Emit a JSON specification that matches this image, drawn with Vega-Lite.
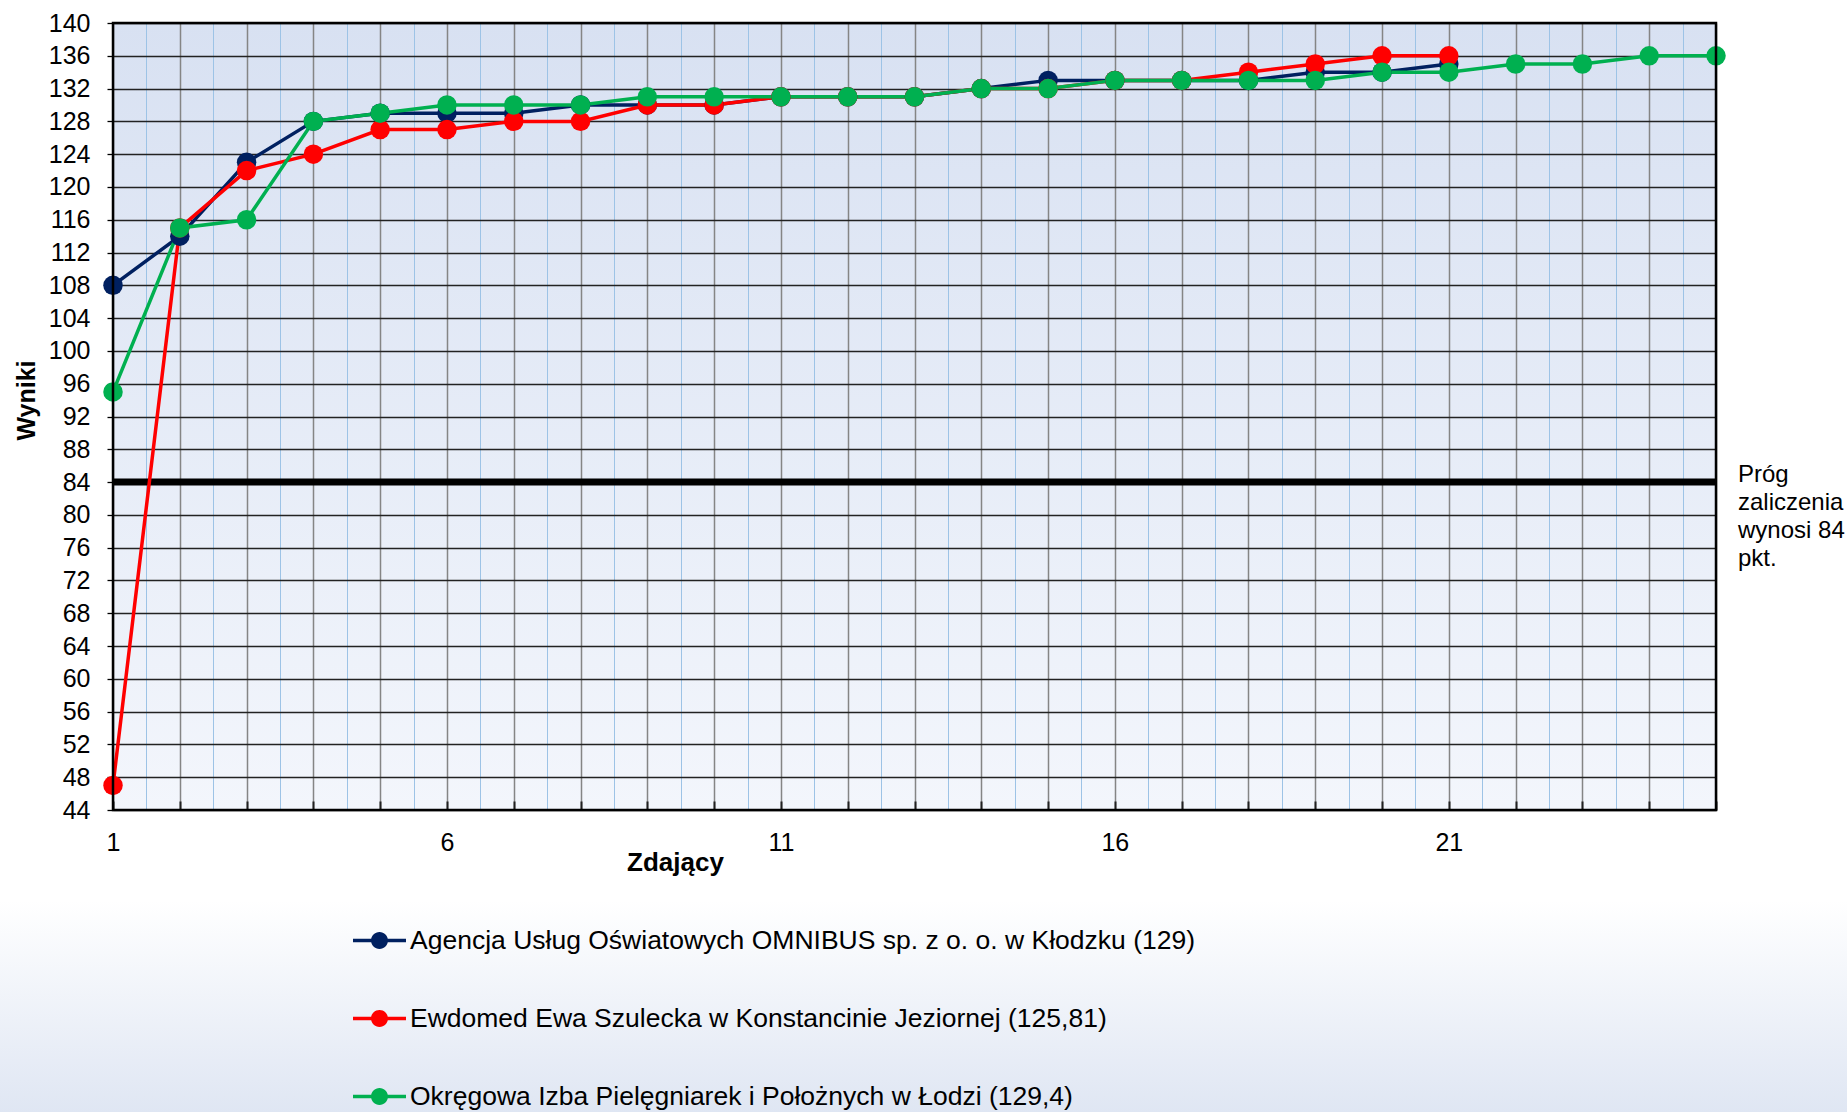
{
  "$schema": "https://vega.github.io/schema/vega-lite/v6.json",
  "width": 1603,
  "height": 787,
  "autosize": {"type": "none"},
  "padding": {"left": 113, "top": 23, "right": 131, "bottom": 302},
  "background": "white",
  "config": {
    "font": "Liberation Sans",
    "view": {
      "stroke": null,
      "fill": {"gradient": "linear", "x1": 0, "y1": 0, "x2": 0, "y2": 1,
        "stops": [{"offset": 0, "color": "#d8e1f2"}, {"offset": 1, "color": "#f3f6fc"}]}
    },
    "axis": {"labelColor": "black", "titleColor": "black", "labelFont": "Liberation Sans", "titleFont": "Liberation Sans"}
  },
  "data": {
    "values": [
      {"zdajacy": 1, "wynik": 108, "podmiot": "Agencja Usług Oświatowych OMNIBUS sp. z o. o. w Kłodzku (129)"},
      {"zdajacy": 2, "wynik": 114, "podmiot": "Agencja Usług Oświatowych OMNIBUS sp. z o. o. w Kłodzku (129)"},
      {"zdajacy": 3, "wynik": 123, "podmiot": "Agencja Usług Oświatowych OMNIBUS sp. z o. o. w Kłodzku (129)"},
      {"zdajacy": 4, "wynik": 128, "podmiot": "Agencja Usług Oświatowych OMNIBUS sp. z o. o. w Kłodzku (129)"},
      {"zdajacy": 5, "wynik": 129, "podmiot": "Agencja Usług Oświatowych OMNIBUS sp. z o. o. w Kłodzku (129)"},
      {"zdajacy": 6, "wynik": 129, "podmiot": "Agencja Usług Oświatowych OMNIBUS sp. z o. o. w Kłodzku (129)"},
      {"zdajacy": 7, "wynik": 129, "podmiot": "Agencja Usług Oświatowych OMNIBUS sp. z o. o. w Kłodzku (129)"},
      {"zdajacy": 8, "wynik": 130, "podmiot": "Agencja Usług Oświatowych OMNIBUS sp. z o. o. w Kłodzku (129)"},
      {"zdajacy": 9, "wynik": 130, "podmiot": "Agencja Usług Oświatowych OMNIBUS sp. z o. o. w Kłodzku (129)"},
      {"zdajacy": 10, "wynik": 130, "podmiot": "Agencja Usług Oświatowych OMNIBUS sp. z o. o. w Kłodzku (129)"},
      {"zdajacy": 11, "wynik": 131, "podmiot": "Agencja Usług Oświatowych OMNIBUS sp. z o. o. w Kłodzku (129)"},
      {"zdajacy": 12, "wynik": 131, "podmiot": "Agencja Usług Oświatowych OMNIBUS sp. z o. o. w Kłodzku (129)"},
      {"zdajacy": 13, "wynik": 131, "podmiot": "Agencja Usług Oświatowych OMNIBUS sp. z o. o. w Kłodzku (129)"},
      {"zdajacy": 14, "wynik": 132, "podmiot": "Agencja Usług Oświatowych OMNIBUS sp. z o. o. w Kłodzku (129)"},
      {"zdajacy": 15, "wynik": 133, "podmiot": "Agencja Usług Oświatowych OMNIBUS sp. z o. o. w Kłodzku (129)"},
      {"zdajacy": 16, "wynik": 133, "podmiot": "Agencja Usług Oświatowych OMNIBUS sp. z o. o. w Kłodzku (129)"},
      {"zdajacy": 17, "wynik": 133, "podmiot": "Agencja Usług Oświatowych OMNIBUS sp. z o. o. w Kłodzku (129)"},
      {"zdajacy": 18, "wynik": 133, "podmiot": "Agencja Usług Oświatowych OMNIBUS sp. z o. o. w Kłodzku (129)"},
      {"zdajacy": 19, "wynik": 134, "podmiot": "Agencja Usług Oświatowych OMNIBUS sp. z o. o. w Kłodzku (129)"},
      {"zdajacy": 20, "wynik": 134, "podmiot": "Agencja Usług Oświatowych OMNIBUS sp. z o. o. w Kłodzku (129)"},
      {"zdajacy": 21, "wynik": 135, "podmiot": "Agencja Usług Oświatowych OMNIBUS sp. z o. o. w Kłodzku (129)"},
      {"zdajacy": 1, "wynik": 47, "podmiot": "Ewdomed Ewa Szulecka w Konstancinie Jeziornej (125,81)"},
      {"zdajacy": 2, "wynik": 115, "podmiot": "Ewdomed Ewa Szulecka w Konstancinie Jeziornej (125,81)"},
      {"zdajacy": 3, "wynik": 122, "podmiot": "Ewdomed Ewa Szulecka w Konstancinie Jeziornej (125,81)"},
      {"zdajacy": 4, "wynik": 124, "podmiot": "Ewdomed Ewa Szulecka w Konstancinie Jeziornej (125,81)"},
      {"zdajacy": 5, "wynik": 127, "podmiot": "Ewdomed Ewa Szulecka w Konstancinie Jeziornej (125,81)"},
      {"zdajacy": 6, "wynik": 127, "podmiot": "Ewdomed Ewa Szulecka w Konstancinie Jeziornej (125,81)"},
      {"zdajacy": 7, "wynik": 128, "podmiot": "Ewdomed Ewa Szulecka w Konstancinie Jeziornej (125,81)"},
      {"zdajacy": 8, "wynik": 128, "podmiot": "Ewdomed Ewa Szulecka w Konstancinie Jeziornej (125,81)"},
      {"zdajacy": 9, "wynik": 130, "podmiot": "Ewdomed Ewa Szulecka w Konstancinie Jeziornej (125,81)"},
      {"zdajacy": 10, "wynik": 130, "podmiot": "Ewdomed Ewa Szulecka w Konstancinie Jeziornej (125,81)"},
      {"zdajacy": 11, "wynik": 131, "podmiot": "Ewdomed Ewa Szulecka w Konstancinie Jeziornej (125,81)"},
      {"zdajacy": 12, "wynik": 131, "podmiot": "Ewdomed Ewa Szulecka w Konstancinie Jeziornej (125,81)"},
      {"zdajacy": 13, "wynik": 131, "podmiot": "Ewdomed Ewa Szulecka w Konstancinie Jeziornej (125,81)"},
      {"zdajacy": 14, "wynik": 132, "podmiot": "Ewdomed Ewa Szulecka w Konstancinie Jeziornej (125,81)"},
      {"zdajacy": 15, "wynik": 132, "podmiot": "Ewdomed Ewa Szulecka w Konstancinie Jeziornej (125,81)"},
      {"zdajacy": 16, "wynik": 133, "podmiot": "Ewdomed Ewa Szulecka w Konstancinie Jeziornej (125,81)"},
      {"zdajacy": 17, "wynik": 133, "podmiot": "Ewdomed Ewa Szulecka w Konstancinie Jeziornej (125,81)"},
      {"zdajacy": 18, "wynik": 134, "podmiot": "Ewdomed Ewa Szulecka w Konstancinie Jeziornej (125,81)"},
      {"zdajacy": 19, "wynik": 135, "podmiot": "Ewdomed Ewa Szulecka w Konstancinie Jeziornej (125,81)"},
      {"zdajacy": 20, "wynik": 136, "podmiot": "Ewdomed Ewa Szulecka w Konstancinie Jeziornej (125,81)"},
      {"zdajacy": 21, "wynik": 136, "podmiot": "Ewdomed Ewa Szulecka w Konstancinie Jeziornej (125,81)"},
      {"zdajacy": 1, "wynik": 95, "podmiot": "Okręgowa Izba Pielęgniarek i Położnych w Łodzi (129,4)"},
      {"zdajacy": 2, "wynik": 115, "podmiot": "Okręgowa Izba Pielęgniarek i Położnych w Łodzi (129,4)"},
      {"zdajacy": 3, "wynik": 116, "podmiot": "Okręgowa Izba Pielęgniarek i Położnych w Łodzi (129,4)"},
      {"zdajacy": 4, "wynik": 128, "podmiot": "Okręgowa Izba Pielęgniarek i Położnych w Łodzi (129,4)"},
      {"zdajacy": 5, "wynik": 129, "podmiot": "Okręgowa Izba Pielęgniarek i Położnych w Łodzi (129,4)"},
      {"zdajacy": 6, "wynik": 130, "podmiot": "Okręgowa Izba Pielęgniarek i Położnych w Łodzi (129,4)"},
      {"zdajacy": 7, "wynik": 130, "podmiot": "Okręgowa Izba Pielęgniarek i Położnych w Łodzi (129,4)"},
      {"zdajacy": 8, "wynik": 130, "podmiot": "Okręgowa Izba Pielęgniarek i Położnych w Łodzi (129,4)"},
      {"zdajacy": 9, "wynik": 131, "podmiot": "Okręgowa Izba Pielęgniarek i Położnych w Łodzi (129,4)"},
      {"zdajacy": 10, "wynik": 131, "podmiot": "Okręgowa Izba Pielęgniarek i Położnych w Łodzi (129,4)"},
      {"zdajacy": 11, "wynik": 131, "podmiot": "Okręgowa Izba Pielęgniarek i Położnych w Łodzi (129,4)"},
      {"zdajacy": 12, "wynik": 131, "podmiot": "Okręgowa Izba Pielęgniarek i Położnych w Łodzi (129,4)"},
      {"zdajacy": 13, "wynik": 131, "podmiot": "Okręgowa Izba Pielęgniarek i Położnych w Łodzi (129,4)"},
      {"zdajacy": 14, "wynik": 132, "podmiot": "Okręgowa Izba Pielęgniarek i Położnych w Łodzi (129,4)"},
      {"zdajacy": 15, "wynik": 132, "podmiot": "Okręgowa Izba Pielęgniarek i Położnych w Łodzi (129,4)"},
      {"zdajacy": 16, "wynik": 133, "podmiot": "Okręgowa Izba Pielęgniarek i Położnych w Łodzi (129,4)"},
      {"zdajacy": 17, "wynik": 133, "podmiot": "Okręgowa Izba Pielęgniarek i Położnych w Łodzi (129,4)"},
      {"zdajacy": 18, "wynik": 133, "podmiot": "Okręgowa Izba Pielęgniarek i Położnych w Łodzi (129,4)"},
      {"zdajacy": 19, "wynik": 133, "podmiot": "Okręgowa Izba Pielęgniarek i Położnych w Łodzi (129,4)"},
      {"zdajacy": 20, "wynik": 134, "podmiot": "Okręgowa Izba Pielęgniarek i Położnych w Łodzi (129,4)"},
      {"zdajacy": 21, "wynik": 134, "podmiot": "Okręgowa Izba Pielęgniarek i Położnych w Łodzi (129,4)"},
      {"zdajacy": 22, "wynik": 135, "podmiot": "Okręgowa Izba Pielęgniarek i Położnych w Łodzi (129,4)"},
      {"zdajacy": 23, "wynik": 135, "podmiot": "Okręgowa Izba Pielęgniarek i Położnych w Łodzi (129,4)"},
      {"zdajacy": 24, "wynik": 136, "podmiot": "Okręgowa Izba Pielęgniarek i Położnych w Łodzi (129,4)"},
      {"zdajacy": 25, "wynik": 136, "podmiot": "Okręgowa Izba Pielęgniarek i Położnych w Łodzi (129,4)"}
    ]
  },
  "resolve": {"axis": {"x": "independent", "y": "independent"}},
  "layer": [
    {
      "data": {"values": [{}]},
      "mark": {"type": "rect", "color": {"gradient": "linear", "x1": 0, "y1": 0, "x2": 0, "y2": 1,
        "stops": [{"offset": 0, "color": "#ffffff"}, {"offset": 1, "color": "#dfe6f3"}]}},
      "encoding": {
        "x": {"datum": -0.7, "type": "quantitative",
          "scale": {"domain": [1, 25], "nice": false, "zero": false},
          "axis": {"orient": "bottom", "values": [1.5, 2.5, 3.5, 4.5, 5.5, 6.5, 7.5, 8.5, 9.5, 10.5, 11.5, 12.5, 13.5, 14.5, 15.5, 16.5, 17.5, 18.5, 19.5, 20.5, 21.5, 22.5, 23.5, 24.5],
            "grid": true, "gridColor": "#9dc3e6", "gridWidth": 1, "labels": false, "ticks": false, "domain": false, "title": null}},
        "x2": {"datum": 27},
        "y": {"datum": 33, "type": "quantitative",
          "scale": {"domain": [44, 140], "nice": false, "zero": false}, "axis": null},
        "y2": {"datum": 7}
      }
    },
    {
      "data": {"values": [{}]},
      "mark": {"type": "rule", "color": "black", "strokeWidth": 7},
      "encoding": {
        "x": {"datum": 1, "type": "quantitative",
          "axis": {"orient": "bottom", "values": [1, 2, 3, 4, 5, 6, 7, 8, 9, 10, 11, 12, 13, 14, 15, 16, 17, 18, 19, 20, 21, 22, 23, 24, 25],
            "grid": true, "gridColor": "#858585", "gridWidth": 1.5, "labels": false,
            "ticks": true, "tickSize": -9, "tickWidth": 2, "tickColor": "#222222", "domain": false, "title": null}},
        "x2": {"datum": 25},
        "y": {"datum": 84, "type": "quantitative", "axis": null}
      }
    },
    {
      "mark": {"type": "line", "strokeWidth": 3.5},
      "encoding": {
        "x": {"field": "zdajacy", "type": "quantitative",
          "axis": {"orient": "bottom", "values": [1, 6, 11, 16, 21], "grid": false, "ticks": false, "domain": false,
            "labelFontSize": 25, "labelPadding": 32, "labelBaseline": "middle", "labelFlush": false,
            "title": "Zdający", "titleFontSize": 26, "titleFontWeight": "bold",
            "titleX": 562, "titleY": 52, "titleAlign": "center", "titleBaseline": "middle"}},
        "y": {"field": "wynik", "type": "quantitative",
          "axis": {"orient": "left", "values": [44, 48, 52, 56, 60, 64, 68, 72, 76, 80, 84, 88, 92, 96, 100, 104, 108, 112, 116, 120, 124, 128, 132, 136, 140],
            "grid": true, "gridColor": "#222222", "gridWidth": 1.3, "ticks": true, "tickSize": 6, "tickColor": "black", "tickWidth": 1.3,
            "domain": false, "labelFontSize": 25, "labelPadding": 17, "labelFlush": false,
            "title": "Wyniki", "titleFontSize": 25, "titleFontWeight": "bold",
            "titleX": -87, "titleY": 377, "titleAngle": -90, "titleAlign": "center", "titleBaseline": "middle"}},
        "stroke": {"field": "podmiot", "type": "nominal", "legend": null,
          "scale": {"domain": ["Okręgowa Izba Pielęgniarek i Położnych w Łodzi (129,4)", "Ewdomed Ewa Szulecka w Konstancinie Jeziornej (125,81)", "Agencja Usług Oświatowych OMNIBUS sp. z o. o. w Kłodzku (129)"],
            "range": ["#00b050", "#ff0000", "#002060"]}}
      }
    },
    {
      "mark": {"type": "circle", "size": 380, "opacity": 1},
      "encoding": {
        "x": {"field": "zdajacy", "type": "quantitative", "axis": null},
        "y": {"field": "wynik", "type": "quantitative", "axis": null},
        "color": {"field": "podmiot", "type": "nominal",
          "scale": {"domain": ["Agencja Usług Oświatowych OMNIBUS sp. z o. o. w Kłodzku (129)", "Ewdomed Ewa Szulecka w Konstancinie Jeziornej (125,81)", "Okręgowa Izba Pielęgniarek i Położnych w Łodzi (129,4)"],
            "range": ["#002060", "#ff0000", "#00b050"]},
          "legend": {"orient": "none", "legendX": 240, "legendY": 891, "title": null, "padding": 0, "zindex": 2,
            "direction": "vertical",
            "symbolType": "M-1,-0.065H1V0.065H-1Z M-0.32,0A0.32,0.32 0 1,1 0.32,0A0.32,0.32 0 1,1 -0.32,0Z",
            "symbolSize": 2809, "symbolStrokeWidth": 0, "symbolOpacity": 1,
            "labelFontSize": 26.5, "labelFont": "Liberation Sans", "labelColor": "black", "labelLimit": 0, "labelOffset": 4,
            "rowPadding": 38}}
      }
    },
    {
      "data": {"values": [{}]},
      "mark": {"type": "text", "align": "left", "baseline": "top", "dx": 22, "dy": -19,
        "fontSize": 24, "lineHeight": 28, "font": "Liberation Sans", "color": "black"},
      "encoding": {
        "x": {"datum": 25, "type": "quantitative", "axis": null},
        "y": {"datum": 84, "type": "quantitative", "axis": null},
        "text": {"value": ["Próg", "zaliczenia", "wynosi 84", "pkt."]}
      }
    },
    {
      "data": {"values": [{}]},
      "mark": {"type": "rect", "filled": false, "stroke": "black", "strokeWidth": 2.5},
      "encoding": {
        "x": {"datum": 1, "type": "quantitative", "axis": null},
        "x2": {"datum": 25},
        "y": {"datum": 44, "type": "quantitative", "axis": null},
        "y2": {"datum": 140}
      }
    }
  ]
}
